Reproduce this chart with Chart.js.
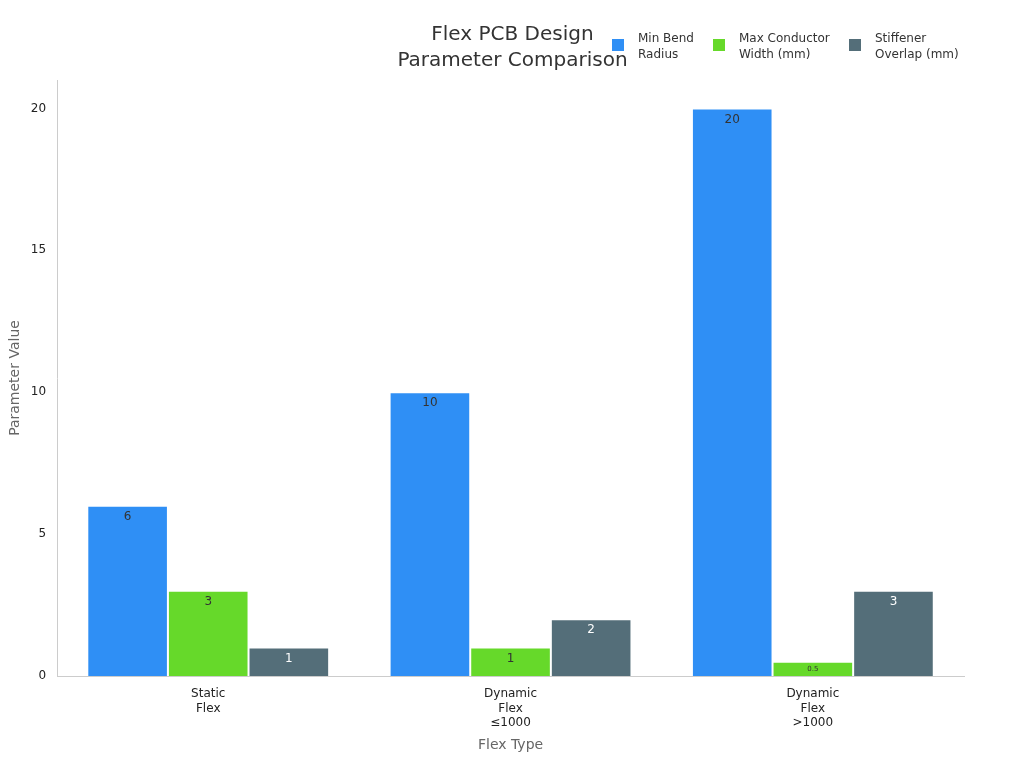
<!DOCTYPE html>
<html><head><meta charset="utf-8">
<script src="https://cdn.jsdelivr.net/npm/chart.js@4/dist/chart.umd.min.js"></script>
<style>
body{margin:0;background:#fff;font-family:"DejaVu Sans",sans-serif;}
#wrap{position:relative;width:1024px;height:768px;}
#title{position:absolute;left:380px;top:20px;width:265px;text-align:center;font-size:20px;color:#333;line-height:26px;}
.leg{position:absolute;top:30px;font-size:12px;color:#333;line-height:16px;}
.sw{position:absolute;left:-26px;top:9px;width:12px;height:12px;}
</style></head><body>
<div id="wrap">
<canvas id="c" width="1024" height="768"></canvas>
<div id="title">Flex PCB Design<br>Parameter Comparison</div>
<div class="leg" style="left:638px"><div class="sw" style="background:#2f8ff5"></div>Min Bend<br>Radius</div>
<div class="leg" style="left:739px"><div class="sw" style="background:#66d92a"></div>Max Conductor<br>Width (mm)</div>
<div class="leg" style="left:875px"><div class="sw" style="background:#546e79"></div>Stiffener<br>Overlap (mm)</div>
</div>
<script>
const categories=[["Static","Flex"],["Dynamic","Flex","≤1000"],["Dynamic","Flex",">1000"]];
const seriesNames=["Min Bend Radius","Max Conductor Width (mm)","Stiffener Overlap (mm)"];
const minBend=[6,10,20];
const maxCond=[3,1,0.5];
const stiff=[1,2,3];
const colors=["#2f8ff5","#66d92a","#546e79"];
const labelColors=["#333","#333","#fff"];
const labelPlugin={id:"lbl",afterDatasetsDraw(ch){const ctx=ch.ctx;ch.data.datasets.forEach((ds,i)=>{ch.getDatasetMeta(i).data.forEach((b,j)=>{const v=ds.data[j];ctx.save();ctx.fillStyle=labelColors[i];ctx.font=(v<1?"7px":"12px")+' "DejaVu Sans"';ctx.textAlign="center";ctx.textBaseline="top";ctx.fillText(String(v),b.x,b.y+(v<1?4:5));ctx.restore();});});}};
new Chart(document.getElementById("c"),{type:"bar",
data:{labels:categories,datasets:[minBend,maxCond,stiff].map((d,i)=>({label:seriesNames[i],data:d,backgroundColor:colors[i],borderColor:"rgba(255,255,255,0.7)",borderWidth:1,categoryPercentage:0.8,barPercentage:1}))},
options:{responsive:false,animation:false,
layout:{padding:{top:80,right:60,left:3,bottom:10}},
plugins:{legend:{display:false},title:{display:false},tooltip:{enabled:false}},
scales:{
x:{grid:{display:false,drawTicks:true},border:{color:"#ccc"},ticks:{color:"#222",font:{size:12,family:"DejaVu Sans"}},title:{display:true,text:"Flex Type",color:"#666",font:{size:14,family:"DejaVu Sans"}}},
y:{min:0,max:21,grid:{display:false},border:{color:"#ccc"},ticks:{stepSize:5,color:"#222",font:{size:12,family:"DejaVu Sans"},callback:v=>v%5===0?v:null},title:{display:true,text:"Parameter Value",color:"#666",font:{size:14,family:"DejaVu Sans"}}}
}},plugins:[labelPlugin]});
</script></body></html>
